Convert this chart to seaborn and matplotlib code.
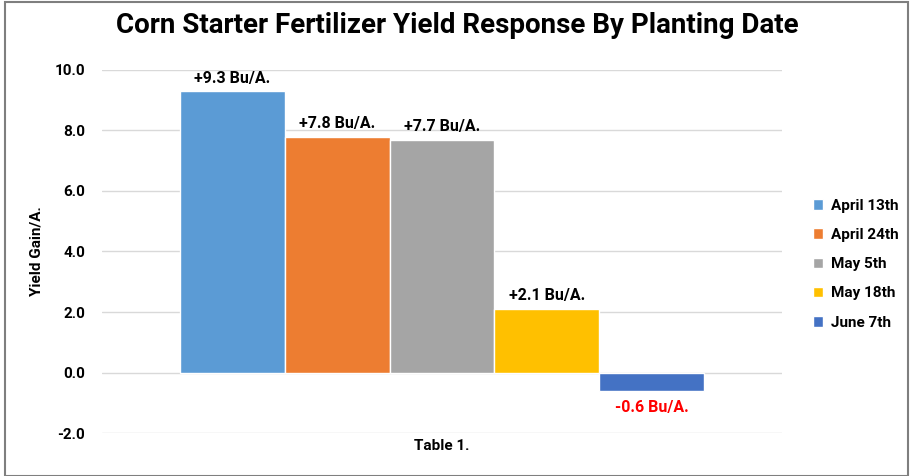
import matplotlib
matplotlib.use("Agg")
import matplotlib.pyplot as plt
import seaborn as sns
import pandas as pd
from matplotlib.patches import Rectangle

# Data
dates = ["April 13th", "April 24th", "May 5th", "May 18th", "June 7th"]
gains = [9.3, 7.8, 7.7, 2.1, -0.6]
colors = ["#5B9BD5", "#ED7D31", "#A5A5A5", "#FFC000", "#4472C4"]
group = "Table 1."

df = pd.DataFrame({"Group": [group] * len(dates), "Date": dates, "Gain": gains})

sns.set_style("white")
plt.rcParams["font.family"] = ["Roboto", "DejaVu Sans"]
plt.rcParams["text.color"] = "black"
plt.rcParams["xtick.color"] = "black"
plt.rcParams["ytick.color"] = "black"
plt.rcParams["axes.labelcolor"] = "black"

fig = plt.figure(figsize=(9.14, 4.76), dpi=100)
ax = fig.add_axes([0.1116, 0.0903, 0.744, 0.7627])

sns.barplot(data=df, x="Group", y="Gain", hue="Date", hue_order=dates,
            palette=colors, width=0.77, saturation=1, ax=ax, legend=True)

ax.set_ylim(-2, 10)
ax.set_yticks([-2, 0, 2, 4, 6, 8, 10])
ax.set_yticklabels([f"{v:.1f}" for v in ax.get_yticks()], fontsize=11, fontweight="bold")
ax.yaxis.grid(True, color="#D9D9D9", linewidth=1)
ax.set_axisbelow(True)
for s in ax.spines.values():
    s.set_visible(False)
ax.tick_params(axis="y", length=0, pad=12)
ax.tick_params(axis="x", length=0, pad=4)
for t in ax.get_xticklabels():
    t.set_fontweight("bold")
    t.set_fontsize(11)
ax.set_xlabel("")
ax.set_ylabel("Yield Gain/A.", fontsize=11, fontweight="bold", labelpad=8)

# value labels
for cont, v in zip(ax.containers, gains):
    lab = f"{v:+.1f} Bu/A."
    ax.bar_label(cont, labels=[lab], padding=7 if v < 0 else 4,
                 fontsize=11.5, fontweight="bold",
                 color="#FF0000" if v < 0 else "black")

leg = ax.legend(loc="center left", bbox_to_anchor=(1.025, 0.465), frameon=False,
                handlelength=0.7, handleheight=0.7, handletextpad=0.5,
                labelspacing=1.0, prop={"weight": "bold", "size": 11})

fig.suptitle("Corn Starter Fertilizer Yield Response By Planting Date",
             fontsize=20, fontweight="bold", y=0.975)

fig.patches.append(Rectangle((0.006, 0.0), 0.987, 0.995, transform=fig.transFigure,
                             fill=False, edgecolor="#7F7F7F", linewidth=1.5))

fig.savefig("out.png", dpi=100)
